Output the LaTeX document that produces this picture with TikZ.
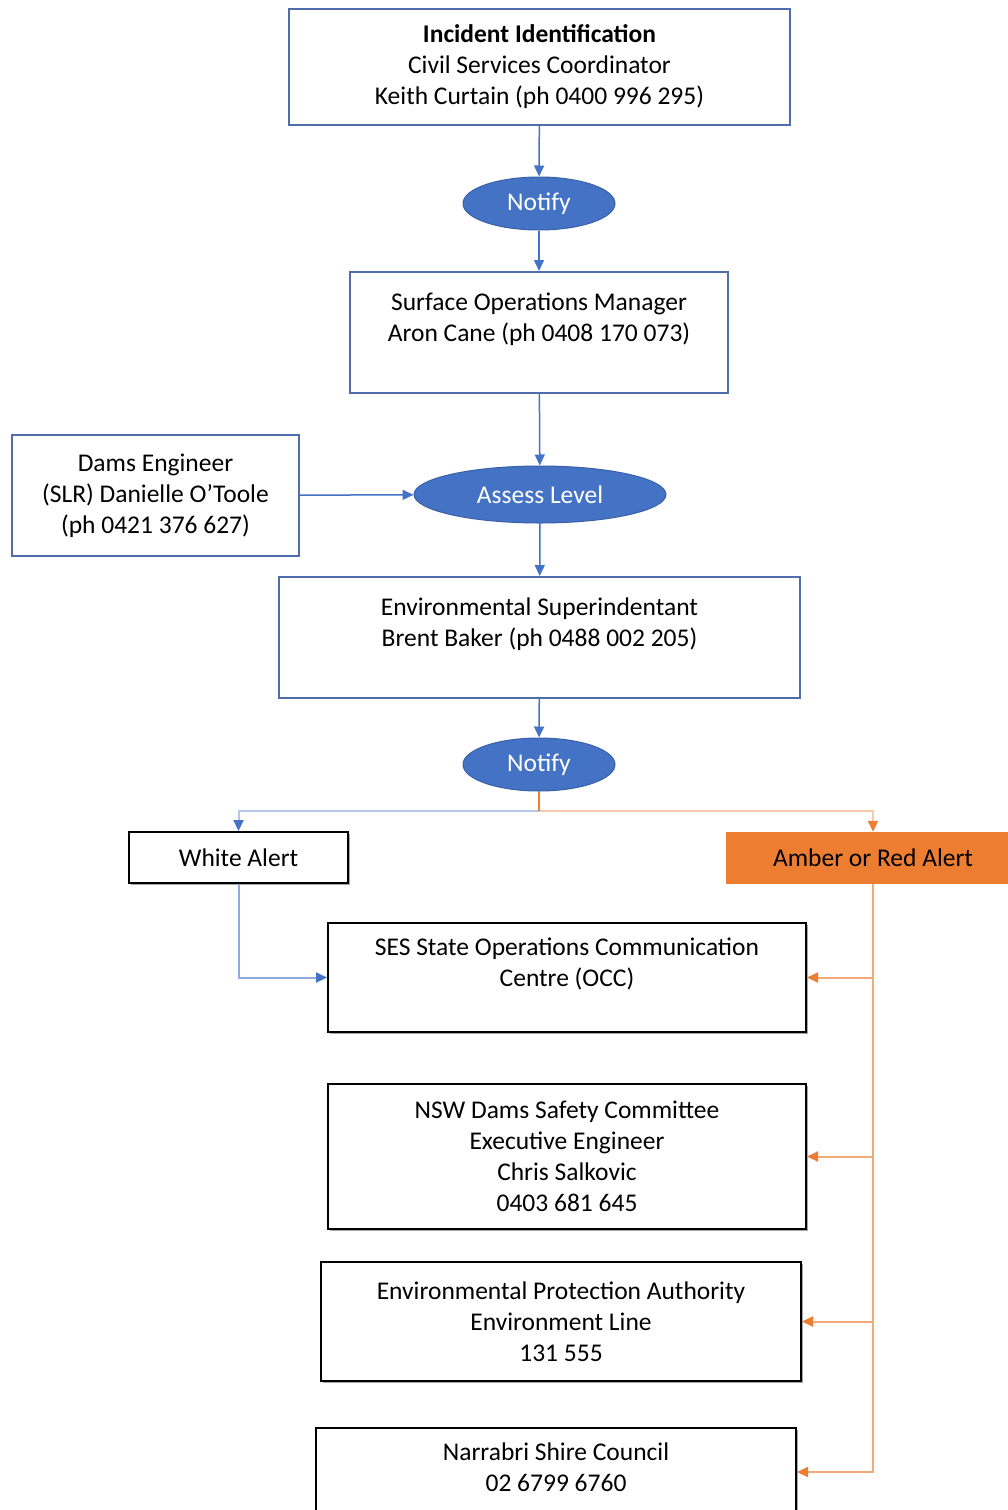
\documentclass[tikz,border=0pt]{standalone}
\usepackage{fontspec}
\setmainfont{Carlito}
\usetikzlibrary{shapes.geometric,arrows.meta,shadows}
\definecolor{ablue}{HTML}{4472C4}
\definecolor{aframe}{HTML}{4F6DA8}
\definecolor{aorange}{HTML}{ED7D31}
\definecolor{lblue}{HTML}{B4C7E7}
\definecolor{lorange}{HTML}{F8CBAD}
\begin{document}
\begin{tikzpicture}[x=1pt,y=-1pt,
  font=\fontsize{25.5}{31}\selectfont,
  bbox/.style={draw=aframe, fill=white, line width=2pt, align=center, inner sep=0pt},
  kbox/.style={draw=black, fill=white, line width=2pt, align=center, inner sep=0pt,
    drop shadow={shadow xshift=1.5pt, shadow yshift=-1.5pt, fill=black!35, opacity=1}},
  oval/.style={ellipse, fill=ablue, draw=ablue!85!black, line width=1pt, text=white, inner sep=0pt},
  tip/.style={-{Triangle[length=11pt,width=10pt]}},
  barrow/.style={draw=ablue, line width=1.5pt, tip},
  lbarrow/.style={draw=lblue, line width=2pt, -{Triangle[length=11pt,width=10pt,color=ablue]}},
  loarrow/.style={draw=lorange, line width=2pt, -{Triangle[length=11pt,width=10pt,color=aorange]}},
  oarrow/.style={draw=aorange!65, line width=2pt, -{Triangle[length=11pt,width=10pt,color=aorange]}}]
\useasboundingbox (0,0) rectangle (1008,1510);
\node[bbox, minimum width=501, minimum height=116] (inc) at (539.5,67) {\textbf{Incident Identification}\\Civil Services Coordinator\\Keith Curtain (ph 0400 996 295)};
\node[oval, minimum width=152, minimum height=53] (notifyA) at (539,203.5) {Notify};
\node[bbox, minimum width=378, minimum height=121] (som) at (539,332.5) {Surface Operations Manager\\Aron Cane (ph 0408 170 073)\\~};
\node[bbox, minimum width=287, minimum height=121] (dams) at (155.5,495.5) {Dams Engineer\\(SLR) Danielle O'Toole\\(ph 0421 376 627)};
\node[oval, minimum width=252, minimum height=57] (assess) at (540,494.5) {Assess Level};
\node[bbox, minimum width=521, minimum height=121] (env) at (539.5,637.5) {Environmental Superindentant\\Brent Baker (ph 0488 002 205)\\~};
\node[oval, minimum width=152, minimum height=53] (notifyB) at (539,764.5) {Notify};
\node[kbox, minimum width=219, minimum height=51] (white) at (238.5,857.5) {White Alert};
\node[fill=aorange, minimum width=294, minimum height=52, inner sep=0pt] (amber) at (873,858) {Amber or Red Alert};
\node[kbox, minimum width=478, minimum height=109] (ses) at (567,977.5) {SES State Operations Communication\\Centre (OCC)\\~};
\node[kbox, minimum width=478, minimum height=145] (nsw) at (567,1156.5) {NSW Dams Safety Committee\\Executive Engineer\\Chris Salkovic\\0403 681 645};
\node[kbox, minimum width=480, minimum height=119] (epa) at (561,1321.5) {Environmental Protection Authority\\Environment Line\\131 555};
\node[kbox, minimum width=480, minimum height=110] (nar) at (556,1483) {Narrabri Shire Council\\02 6799 6760\\~};
\coordinate (split) at (539,811);
\draw[barrow] (inc) -- (notifyA);
\draw[barrow] (notifyA) -- (som);
\draw[barrow] (som) -- (assess);
\draw[barrow] (dams) -- (assess);
\draw[barrow] (assess) -- (env);
\draw[barrow] (env) -- (notifyB);
\draw[lbarrow] (split) -| (white);
\draw[loarrow] (split) -| (amber);
\draw[draw=aorange, line width=1.5pt] (notifyB) -- (split);
\draw[lbarrow, draw=ablue!60] (white) |- (ses);
\draw[oarrow] (amber) |- (ses);
\draw[oarrow] (amber) |- (nsw);
\draw[oarrow] (amber) |- (epa);
\draw[oarrow] (amber) |- ([yshift=11pt]nar.east);
\end{tikzpicture}
\end{document}
